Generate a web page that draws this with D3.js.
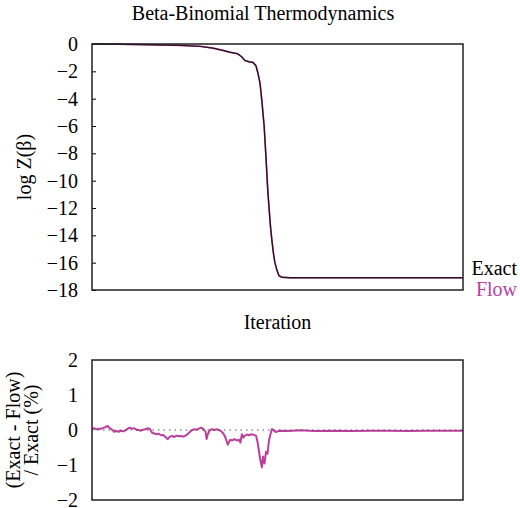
<!DOCTYPE html>
<html><head><meta charset="utf-8">
<script src="https://cdn.jsdelivr.net/npm/d3@7"></script>
<style>body{margin:0;background:#fff;}</style></head>
<body><svg id="c" width="520" height="508"></svg>
<script>
// ---- data ----
const titleText = "Beta-Binomial Thermodynamics";
const seriesNames = ["Exact", "Flow"];
const upperIter = [0,75,156,237,291,326,350,372,393,404,412,423,434,442,447,453,458,464,469,474,480,482,485,489,493,499,504,512,534,1000];
const exactLogZ = [0,-0.02,-0.05,-0.1,-0.17,-0.3,-0.45,-0.6,-0.72,-0.95,-1.2,-1.3,-1.35,-1.6,-2.1,-2.9,-4.2,-6.0,-8.3,-10.8,-13.0,-13.6,-14.4,-15.3,-16.0,-16.6,-16.95,-17.07,-17.1,-17.1];
const flowLogZ  = [0,-0.02,-0.05,-0.1,-0.17,-0.3,-0.45,-0.6,-0.72,-0.95,-1.2,-1.3,-1.35,-1.6,-2.1,-2.9,-4.2,-6.0,-8.3,-10.8,-13.0,-13.6,-14.4,-15.3,-16.0,-16.6,-16.95,-17.07,-17.1,-17.1];
const upperTicks = [0,-2,-4,-6,-8,-10,-12,-14,-16,-18];
const residIter = [0,6,12,18,24,30,36,42,48,54,60,66,72,78,84,90,96,102,108,114,120,126,132,138,144,150,156,162,168,174,180,186,192,198,204,210,216,222,228,234,240,246,252,258,264,270,276,282,288,294,300,306,309,312,318,324,330,336,342,348,354,360,366,372,378,384,390,396,400,404,408,412,418,424,430,436,442,446,450,454,458,461,465,469,473,477,481,485,490,496,502,510,530,560,600,650,700,750,800,850,900,950,1000];
const residPct = [0.03,0.05,0.02,0.04,0.03,0.06,0.08,0.12,0.05,0.01,-0.05,-0.03,-0.05,-0.02,-0.04,-0.01,0.03,0.07,0.04,0.05,0.01,0.0,-0.02,0.01,0.02,0.05,0.03,-0.08,-0.1,-0.12,-0.11,-0.15,-0.14,-0.2,-0.26,-0.19,-0.17,-0.2,-0.16,-0.18,-0.17,-0.19,-0.16,-0.12,-0.05,0.0,0.02,0.01,0.04,0.07,0.03,-0.05,-0.26,-0.12,0.0,0.02,0.0,0.02,0.0,-0.03,-0.1,-0.22,-0.42,-0.28,-0.3,-0.26,-0.3,-0.28,-0.36,-0.12,-0.22,-0.16,-0.13,-0.15,-0.12,-0.14,-0.16,-0.33,-0.6,-0.88,-1.07,-0.76,-0.96,-0.62,-0.68,-0.3,-0.12,0.03,-0.01,-0.06,-0.03,-0.02,-0.03,-0.01,-0.03,-0.02,-0.03,-0.02,-0.02,-0.03,-0.02,-0.02,-0.02];
const lowerTicks = [2,1,0,-1,-2];

// ---- layout ----
const FONT = "Liberation Serif";
const svg = d3.select("#c");
const L = 92, R = 463;
const uT = 44, uB = 290, lT = 360, lB = 500;
const exactColor = "#000", flowColor = "#bc3e9e";
const x = d3.scaleLinear().domain([0,1000]).range([L,R]);
const yU = d3.scaleLinear().domain([-18,0]).range([uB,uT]);
const yL = d3.scaleLinear().domain([-2,2]).range([lB,lT]);

function label(xp, yp, str, anchor, color) {
  return svg.append("text").attr("x",xp).attr("y",yp).attr("text-anchor",anchor)
    .attr("font-family",FONT).attr("font-size",20).attr("fill",color || "#000").text(str);
}

label(263, 20, titleText, "middle");

// upper axis: ticks via scale, labels drawn as plain texts
const axU = svg.append("g").attr("transform",`translate(${L},0)`)
  .call(d3.axisRight(yU).tickValues(upperTicks).tickSize(4).tickFormat(""));
axU.select(".domain").remove();
axU.selectAll("line").attr("stroke","#000");
const fmt = d3.format("d");
upperTicks.forEach(t => label(L-14, yU(t)+7, fmt(t), "end"));

const lineU = (ys) => d3.line().x((d,i)=>x(upperIter[i])).y(d=>yU(d))(ys);
svg.append("path").attr("d",lineU(flowLogZ)).attr("fill","none").attr("stroke",flowColor).attr("stroke-width",1.6);
svg.append("path").attr("d",lineU(exactLogZ)).attr("fill","none").attr("stroke",exactColor).attr("stroke-width",1.4).attr("stroke-opacity",0.75);

svg.append("rect").attr("x",L).attr("y",uT).attr("width",R-L).attr("height",uB-uT)
  .attr("fill","none").attr("stroke","#222").attr("stroke-width",1.5);

svg.append("text").attr("transform",`translate(31,${(uT+uB)/2}) rotate(-90)`)
  .attr("text-anchor","middle").attr("font-family",FONT).attr("font-size",20).text("log Z(β)");

// legend
label(517, 275, seriesNames[0], "end", exactColor);
label(517, 296, seriesNames[1], "end", flowColor);

label((L+R)/2, 329, "Iteration", "middle");

// lower axis labels
lowerTicks.forEach(t => label(L-14, yL(t)+7, fmt(t), "end"));

svg.append("path").attr("d", d3.line().x((d,i)=>x(residIter[i])).y(d=>yL(d))(residPct))
  .attr("fill","none").attr("stroke",flowColor).attr("stroke-width",2).attr("stroke-linejoin","round");

svg.append("line").attr("x1",L).attr("x2",R).attr("y1",yL(0)).attr("y2",yL(0))
  .attr("stroke","#555").attr("stroke-width",1.2).attr("stroke-dasharray","1.5,4");

svg.append("rect").attr("x",L).attr("y",lT).attr("width",R-L).attr("height",lB-lT)
  .attr("fill","none").attr("stroke","#222").attr("stroke-width",1.5);

const yl = svg.append("text").attr("transform",`translate(0,${(lT+lB)/2}) rotate(-90)`)
  .attr("text-anchor","middle").attr("font-family",FONT).attr("font-size",20);
yl.append("tspan").attr("x",0).attr("y",20).text("(Exact - Flow)");
yl.append("tspan").attr("x",0).attr("y",38).text("/ Exact (%)");
</script></body></html>
